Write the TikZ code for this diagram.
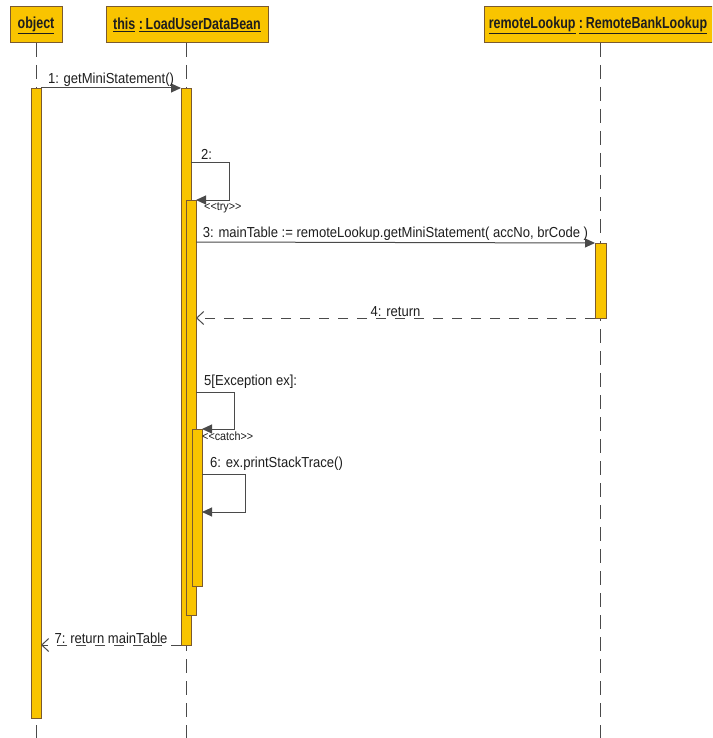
\documentclass[tikz,border=0pt]{standalone}
\usepackage{fontspec}
\setmainfont{Liberation Sans}[FakeStretch=0.9]
\newfontfamily\hdrfont{Liberation Sans}[FakeStretch=0.78]
\usetikzlibrary{arrows.meta,calc}
\definecolor{gold}{HTML}{F9C400}
\definecolor{brd}{HTML}{7A5A30}
\definecolor{ln}{HTML}{4A4A4A}
\definecolor{txt}{HTML}{1E1E1E}
\begin{document}
\begin{tikzpicture}[x=1pt,y=-1pt,
  font=\fontsize{14.5}{16}\selectfont,
  hdr/.style={draw=brd, fill=gold, line width=1pt, inner sep=0pt, outer sep=0pt, minimum height=36pt,
    font=\hdrfont\fontsize{16}{18}\selectfont\bfseries, text=txt},
  act/.style={draw=brd, fill=gold, line width=0.8pt, minimum width=10pt, inner sep=0pt, outer sep=0pt, anchor=north},
  lifeline/.style={draw=ln, line width=0.8pt, dash pattern=on 14pt off 8pt},
  call/.style={draw=ln, line width=1pt, -{Triangle[length=10pt,width=9pt,fill=ln]}},
  ret/.style={draw=ln, line width=1pt, dash pattern=on 10pt off 9pt, -{Straight Barb[length=7pt,width=13pt]}},
  lbl/.style={inner sep=1pt, text=txt},
  stereo/.style={inner sep=1pt, text=txt, anchor=north west, font=\fontsize{12}{14}\selectfont}
]
\useasboundingbox (0,0) rectangle (712,738);
\fill[white] (0,0) rectangle (712,738);
\begin{scope}
\clip (0,0) rectangle (712,738);
% headers
\node[hdr, minimum width=52pt] (obj) at (36,25) {\underline{object}};
\node[hdr, minimum width=162pt] (bean) at (187,25) {\underline{this} \underline{:\,LoadUserDataBean}};
\node[hdr, minimum width=228pt] (rem) at (598,25) {\underline{remoteLookup} \underline{:\,RemoteBankLookup}};
% lifelines
\coordinate (objEnd) at (36,738);
\coordinate (beanTop) at (186,43);
\coordinate (beanEnd) at (186,738);
\coordinate (remTop) at (600,43);
\coordinate (remEnd) at (600,738);
\draw[lifeline] (obj.south) -- (objEnd);
\draw[lifeline] (beanTop) -- (beanEnd);
\draw[lifeline] (remTop) -- (remEnd);
% activations
\node[act, minimum height=630pt] (A0) at (36,88) {};
\node[act, minimum height=557pt] (A1) at (186,88) {};
\node[act, minimum height=415pt] (A2) at (191,200) {};
\node[act, minimum height=157pt] (A3) at (197,429) {};
\node[act, minimum height=75pt, minimum width=11pt] (R1) at (600.5,243) {};
% 1
\draw[call] (A0.north east) -- node[lbl, above] {1: getMiniStatement()} (A1.north west);
% 2
\coordinate (s2a) at ($(A1.north east)+(0,75)$);
\draw[call] (s2a) -- ++(38,0) |- (A2.north east);
\node[lbl, anchor=south west] (l2) at (200,161) {2:};
\node[stereo] (try) at (203,202) {<{}<try>{}>};
% 3
\coordinate (m3a) at ($(A2.north east)+(0,42)$);
\draw[call] (m3a) -- node[lbl, above] {3: mainTable := remoteLookup.getMiniStatement( accNo, brCode )} (R1.north west);
% 4
\coordinate (m4b) at (A2.east |- R1.south west);
\draw[ret] (R1.south west) -- node[lbl, above] {4: return} (m4b);
% 5
\coordinate (s5a) at ($(A2.north east)+(0,192)$);
\draw[call] (s5a) -- ++(38,0) |- (A3.north east);
\node[lbl, anchor=south west] (l5) at (203,390) {5[Exception ex]:};
\node[stereo] (catch) at (201,431) {<{}<catch>{}>};
% 6
\coordinate (s6a) at ($(A3.north east)+(0,45)$);
\coordinate (s6b) at ($(A3.north east)+(0,83)$);
\draw[call] (s6a) -- ++(43,0) |- (s6b);
\node[lbl, anchor=south west] (l6) at (209,472) {6: ex.printStackTrace()};
% 7
\coordinate (m7b) at (A0.east |- A1.south);
\draw[ret] (A1.south west) -- node[lbl, above] {7: return mainTable} (m7b);
\end{scope}
\end{tikzpicture}
\end{document}
